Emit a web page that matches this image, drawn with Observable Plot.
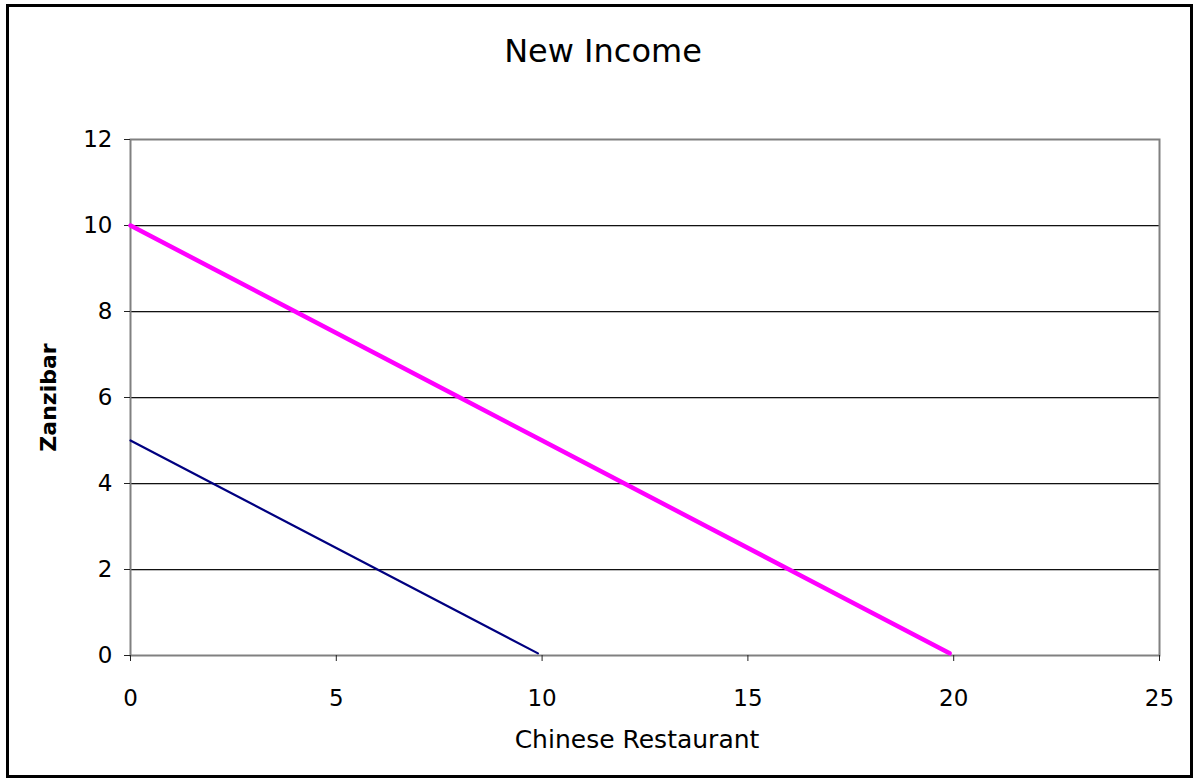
<!DOCTYPE html>
<html>
<head>
<meta charset="utf-8">
<script src="https://cdn.jsdelivr.net/npm/d3@7"></script>
<script src="https://cdn.jsdelivr.net/npm/@observablehq/plot@0.6"></script>
<style>
  html, body { margin: 0; padding: 0; background: #fff; }
  #wrap { position: relative; width: 1199px; height: 782px; }
  #border { position: absolute; left: 6px; top: 4px; width: 1181px; height: 768px; border: 3px solid #000; pointer-events: none; }
  svg { font-family: "DejaVu Sans", Verdana, sans-serif; }
</style>
</head>
<body>
<div id="wrap"><div id="border"></div></div>
<script>
const title = "New Income";
const xLabel = "Chinese Restaurant";
const yLabel = "Zanzibar";
const xTicks = [0, 5, 10, 15, 20, 25];
const yTicks = [0, 2, 4, 6, 8, 10, 12];
const gridY = [2, 4, 6, 8, 10];

// Original income (blue)
const oldX = [0, 2, 4, 6, 8, 9.9];
const oldY = [5, 4, 3, 2, 1, 0.05];
// New income (magenta)
const newX = [0, 2, 4, 6, 8, 10, 12, 14, 16, 18, 19.9];
const newY = [10, 9, 8, 7, 6, 5, 4, 3, 2, 1, 0.05];

const oldData = oldX.map((x, i) => ({x, y: oldY[i]}));
const newData = newX.map((x, i) => ({x, y: newY[i]}));

const chart = Plot.plot({
  width: 1199,
  height: 782,
  marginLeft: 130,
  marginRight: 40,
  marginTop: 139,
  marginBottom: 127,
  style: {fontFamily: "DejaVu Sans, Verdana, sans-serif", background: "transparent"},
  x: {domain: [0, 25]},
  y: {domain: [0, 12]},
  marks: [
    Plot.ruleY(gridY, {stroke: "#bbb", strokeWidth: 1, dy: 1}),
    Plot.ruleY(gridY, {stroke: "#111", strokeWidth: 1}),
    Plot.frame({stroke: "#808080", strokeWidth: 2}),
    Plot.axisX({ticks: xTicks, tickSize: 6, tickPadding: 28, fontSize: 23, label: null, stroke: "#222", fill: "#000"}),
    Plot.axisY({ticks: yTicks, tickSize: 6, tickPadding: 12, fontSize: 23, label: null, stroke: "#222", fill: "#000"}),
    Plot.line(oldData, {x: "x", y: "y", stroke: "#000080", strokeWidth: 2.2}),
    Plot.line(newData, {x: "x", y: "y", stroke: "#ff00ff", strokeWidth: 4.5}),
    Plot.text([title], {frameAnchor: "top", dx: -42, dy: -88, lineAnchor: "middle", fontSize: 32, fill: "#000"}),
    Plot.text([xLabel], {frameAnchor: "bottom", dx: -8, dy: 84, lineAnchor: "middle", fontSize: 25, fill: "#000"}),
    Plot.text([yLabel], {frameAnchor: "left", dx: -82, rotate: -90, textAnchor: "middle", lineAnchor: "middle", fontSize: 22, fontWeight: "bold", fill: "#000"})
  ]
});
document.getElementById("wrap").prepend(chart);
</script>
</body>
</html>
